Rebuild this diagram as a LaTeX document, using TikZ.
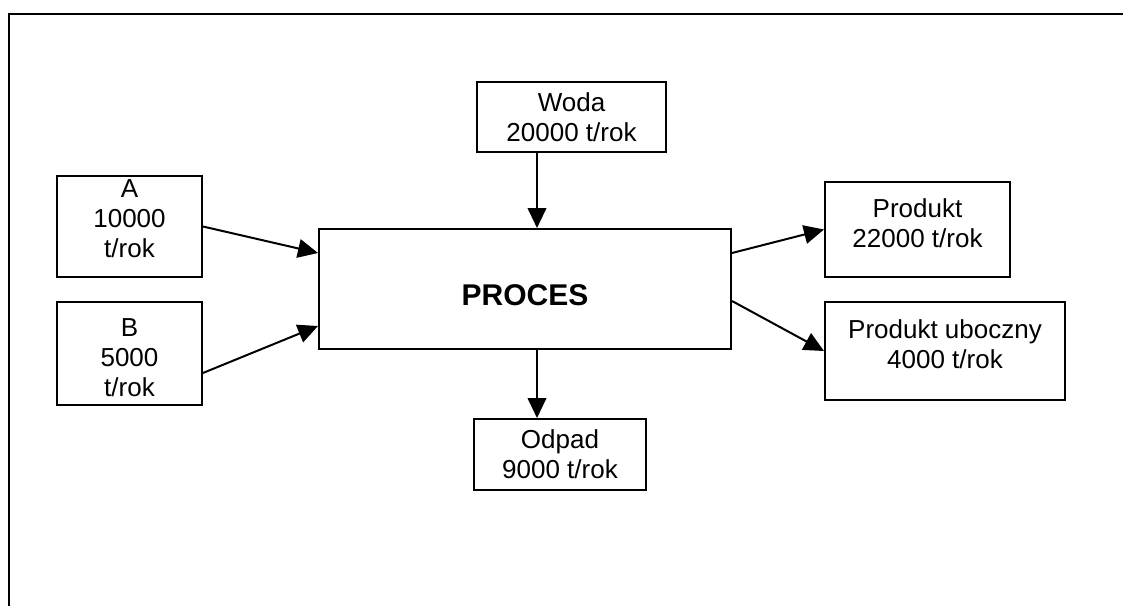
\documentclass[tikz,border=0pt]{standalone}
\usepackage{fontspec}
\setmainfont{Liberation Sans}
\usetikzlibrary{arrows.meta}
\tikzset{
	box/.style={draw, line width=1.5pt, inner sep=0pt},
	txt/.style={align=center, inner sep=0pt, font=\fontsize{19.5}{22.5}\selectfont},
	flow/.style={line width=1.5pt, -{Triangle[length=15pt,width=14pt]}}
}
\begin{document}
\begin{tikzpicture}[x=0.75pt, y=-0.75pt]
	\useasboundingbox (0,0) rectangle (1123,606);
	% Frame
	\draw[line width=2pt] (9,606) -- (9,14) -- (1123,14);
	% Boxes
	\node[box, minimum width=141.75pt, minimum height=52.5pt,
		label={[txt]center:Woda\\20000 t/rok}] (woda) at (571.5,117) {};
	\node[box, minimum width=108.75pt, minimum height=75.75pt,
		label={[txt, yshift=6pt]center:A\\10000\\t/rok}] (a) at (129.5,226.5) {};
	\node[box, minimum width=108.75pt, minimum height=77.25pt,
		label={[txt, yshift=-3pt]center:B\\5000\\t/rok}] (b) at (129.5,353.5) {};
	\node[box, minimum width=309pt, minimum height=90pt,
		label={[txt, yshift=-5pt, font=\fontsize{22.5}{26}\selectfont\bfseries]center:PROCES}] (proc) at (525,289) {};
	\node[box, minimum width=138.75pt, minimum height=71.25pt,
		label={[txt, yshift=4.5pt]center:Produkt\\22000 t/rok}] (prod) at (917.5,229.5) {};
	\node[box, minimum width=180pt, minimum height=73.5pt,
		label={[txt, yshift=5.25pt]center:Produkt uboczny\\4000 t/rok}] (ubo) at (945,351) {};
	\node[box, minimum width=129pt, minimum height=53.25pt,
		label={[txt]center:Odpad\\9000 t/rok}] (odpad) at (560,454.5) {};
	\coordinate (dn) at (537,0);
	% Arrows
	\draw[flow] (woda.south -| dn) -- (proc.north -| dn);
	\draw[flow] (a.east) -- ([yshift=27pt]proc.west);
	\draw[flow] ([yshift=-14.6pt]b.east) -- ([yshift=-27.75pt]proc.west);
	\draw[flow] ([yshift=27pt]proc.east) -- (prod.west);
	\draw[flow] ([yshift=-9pt]proc.east) -- (ubo.west);
	\draw[flow] (proc.south -| dn) -- (odpad.north -| dn);
\end{tikzpicture}
\end{document}
